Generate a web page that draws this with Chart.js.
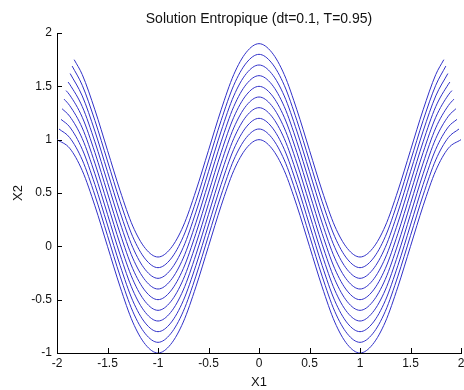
<!DOCTYPE html>
<html>
<head>
<meta charset="utf-8">
<script src="https://cdn.jsdelivr.net/npm/chart.js@4/dist/chart.umd.min.js"></script>
<style>
  html, body { margin: 0; padding: 0; background: #fff; }
  #wrap { width: 464px; height: 390px; }
</style>
</head>
<body>
<div id="wrap"><canvas id="myChart"></canvas></div>
<script>
// X1 sample positions shared by all curves
const x1Grid = [-2, -1.875, -1.75, -1.625, -1.5, -1.375, -1.25, -1.125, -1, -0.875, -0.75, -0.625, -0.5, -0.375, -0.25, -0.125, 0,
                0.125, 0.25, 0.375, 0.5, 0.625, 0.75, 0.875, 1, 1.125, 1.25, 1.375, 1.5, 1.625, 1.75, 1.875, 2];

const timeLabels = ['t=0', 't=0.1', 't=0.2', 't=0.3', 't=0.4', 't=0.5', 't=0.6', 't=0.7', 't=0.8', 't=0.9'];

// X2 (null = outside the curve)
const x2T0 = [null, 0.92, 0.71, 0.38, 0, -0.38, -0.71, -0.92, -1, -0.92, -0.71, -0.38, 0, 0.38, 0.71, 0.92, 1, 0.92, 0.71, 0.38, 0, -0.38, -0.71, -0.92, -1, -0.92, -0.71, -0.38, 0, 0.38, 0.71, 0.92, null];
const x2T1 = [null, 1.02, 0.81, 0.48, 0.1, -0.28, -0.61, -0.82, -0.9, -0.82, -0.61, -0.28, 0.1, 0.48, 0.81, 1.02, 1.1, 1.02, 0.81, 0.48, 0.1, -0.28, -0.61, -0.82, -0.9, -0.82, -0.61, -0.28, 0.1, 0.48, 0.81, 1.02, null];
const x2T2 = [null, 1.12, 0.91, 0.58, 0.2, -0.18, -0.51, -0.72, -0.8, -0.72, -0.51, -0.18, 0.2, 0.58, 0.91, 1.12, 1.2, 1.12, 0.91, 0.58, 0.2, -0.18, -0.51, -0.72, -0.8, -0.72, -0.51, -0.18, 0.2, 0.58, 0.91, 1.12, null];
const x2T3 = [null, 1.22, 1.01, 0.68, 0.3, -0.08, -0.41, -0.62, -0.7, -0.62, -0.41, -0.08, 0.3, 0.68, 1.01, 1.22, 1.3, 1.22, 1.01, 0.68, 0.3, -0.08, -0.41, -0.62, -0.7, -0.62, -0.41, -0.08, 0.3, 0.68, 1.01, 1.22, null];
const x2T4 = [null, 1.32, 1.11, 0.78, 0.4, 0.02, -0.31, -0.52, -0.6, -0.52, -0.31, 0.02, 0.4, 0.78, 1.11, 1.32, 1.4, 1.32, 1.11, 0.78, 0.4, 0.02, -0.31, -0.52, -0.6, -0.52, -0.31, 0.02, 0.4, 0.78, 1.11, 1.32, null];
const x2T5 = [null, 1.42, 1.21, 0.88, 0.5, 0.12, -0.21, -0.42, -0.5, -0.42, -0.21, 0.12, 0.5, 0.88, 1.21, 1.42, 1.5, 1.42, 1.21, 0.88, 0.5, 0.12, -0.21, -0.42, -0.5, -0.42, -0.21, 0.12, 0.5, 0.88, 1.21, 1.42, null];
const x2T6 = [null, 1.52, 1.31, 0.98, 0.6, 0.22, -0.11, -0.32, -0.4, -0.32, -0.11, 0.22, 0.6, 0.98, 1.31, 1.52, 1.6, 1.52, 1.31, 0.98, 0.6, 0.22, -0.11, -0.32, -0.4, -0.32, -0.11, 0.22, 0.6, 0.98, 1.31, 1.52, null];
const x2T7 = [null, null, 1.41, 1.08, 0.7, 0.32, -0.01, -0.22, -0.3, -0.22, -0.01, 0.32, 0.7, 1.08, 1.41, 1.62, 1.7, 1.62, 1.41, 1.08, 0.7, 0.32, -0.01, -0.22, -0.3, -0.22, -0.01, 0.32, 0.7, 1.08, 1.41, null, null];
const x2T8 = [null, null, 1.51, 1.18, 0.8, 0.42, 0.09, -0.12, -0.2, -0.12, 0.09, 0.42, 0.8, 1.18, 1.51, 1.72, 1.8, 1.72, 1.51, 1.18, 0.8, 0.42, 0.09, -0.12, -0.2, -0.12, 0.09, 0.42, 0.8, 1.18, 1.51, null, null];
const x2T9 = [null, null, 1.61, 1.28, 0.9, 0.52, 0.19, -0.02, -0.1, -0.02, 0.19, 0.52, 0.9, 1.28, 1.61, 1.82, 1.9, 1.82, 1.61, 1.28, 0.9, 0.52, 0.19, -0.02, -0.1, -0.02, 0.19, 0.52, 0.9, 1.28, 1.61, null, null];

// end points of each curve (left end; right end is mirrored)
const endX1 = [-2, -1.98, -1.96, -1.95, -1.93, -1.91, -1.89, -1.87, -1.85, -1.83];
const endX2 = [1, 1.10, 1.19, 1.29, 1.38, 1.46, 1.54, 1.62, 1.69, 1.75];

const curves = [x2T0, x2T1, x2T2, x2T3, x2T4, x2T5, x2T6, x2T7, x2T8, x2T9];

const datasets = curves.map((ys, k) => {
    const pts = [{ x: endX1[k], y: endX2[k] }];
    x1Grid.forEach((x, i) => {
        if (ys[i] !== null) pts.push({ x: x, y: ys[i] });
    });
    pts.push({ x: -endX1[k], y: endX2[k] });
    return {
        label: timeLabels[k],
        data: pts,
        borderColor: '#3030c8',
        borderWidth: 1,
        pointRadius: 0,
        cubicInterpolationMode: 'monotone',
        fill: false
    };
});

const fontFamily = '"Liberation Sans", Arial, sans-serif';

// matlab style labels: 2, 1.5, 1 ... (no trailing .0)
const plainTick = v => String(Number(v.toFixed(2)));

// matlab style ticks pointing into the axes
const inwardTicks = {
    id: 'inwardTicks',
    afterDatasetsDraw(chart) {
        const { ctx, chartArea, scales } = chart;
        ctx.save();
        ctx.strokeStyle = '#000';
        ctx.lineWidth = 1;
        ctx.beginPath();
        scales.x.ticks.forEach(t => {
            const px = Math.round(scales.x.getPixelForValue(t.value)) + 0.5;
            ctx.moveTo(px, chartArea.bottom);
            ctx.lineTo(px, chartArea.bottom - 5);
        });
        scales.y.ticks.forEach(t => {
            const py = Math.round(scales.y.getPixelForValue(t.value)) + 0.5;
            ctx.moveTo(chartArea.left, py);
            ctx.lineTo(chartArea.left + 5, py);
        });
        ctx.stroke();
        ctx.restore();
    }
};

new Chart(document.getElementById('myChart'), {
    type: 'line',
    data: { datasets: datasets },
    options: {
        animation: false,
        responsive: true,
        maintainAspectRatio: false,
        devicePixelRatio: 1,
        layout: { padding: { top: 0, right: 3, bottom: 0, left: 0 } },
        plugins: {
            legend: { display: false },
            tooltip: { enabled: false },
            title: {
                display: true,
                text: 'Solution Entropique (dt=0.1, T=0.95)',
                fullSize: false,
                color: '#111',
                font: { family: fontFamily, size: 14, weight: 'normal' },
                padding: { top: 11, bottom: 5.2 }
            }
        },
        scales: {
            x: {
                type: 'linear',
                position: 'bottom',
                min: -2,
                max: 2,
                ticks: {
                    stepSize: 0.5,
                    maxRotation: 0,
                    padding: 3,
                    color: '#111',
                    font: { family: fontFamily, size: 12 },
                    callback: plainTick
                },
                grid: { display: false, drawTicks: false },
                border: { display: true, color: '#000', width: 1 },
                title: {
                    display: true,
                    text: 'X1',
                    color: '#111',
                    font: { family: fontFamily, size: 13 },
                    padding: { top: 0, bottom: 0 }
                },
                afterFit: s => { s.height = 37; s.paddingLeft = 0; s.paddingRight = 0; }
            },
            y: {
                type: 'linear',
                min: -1,
                max: 2,
                ticks: {
                    stepSize: 0.5,
                    padding: 5,
                    color: '#111',
                    font: { family: fontFamily, size: 12 },
                    callback: plainTick
                },
                grid: { display: false, drawTicks: false },
                border: { display: true, color: '#000', width: 1 },
                title: {
                    display: true,
                    text: 'X2',
                    color: '#111',
                    font: { family: fontFamily, size: 13 },
                    padding: { top: 11, bottom: 0 }
                },
                afterFit: s => { s.width = 57; s.paddingTop = 0; s.paddingBottom = 0; }
            }
        }
    },
    plugins: [inwardTicks]
});
</script>
</body>
</html>
